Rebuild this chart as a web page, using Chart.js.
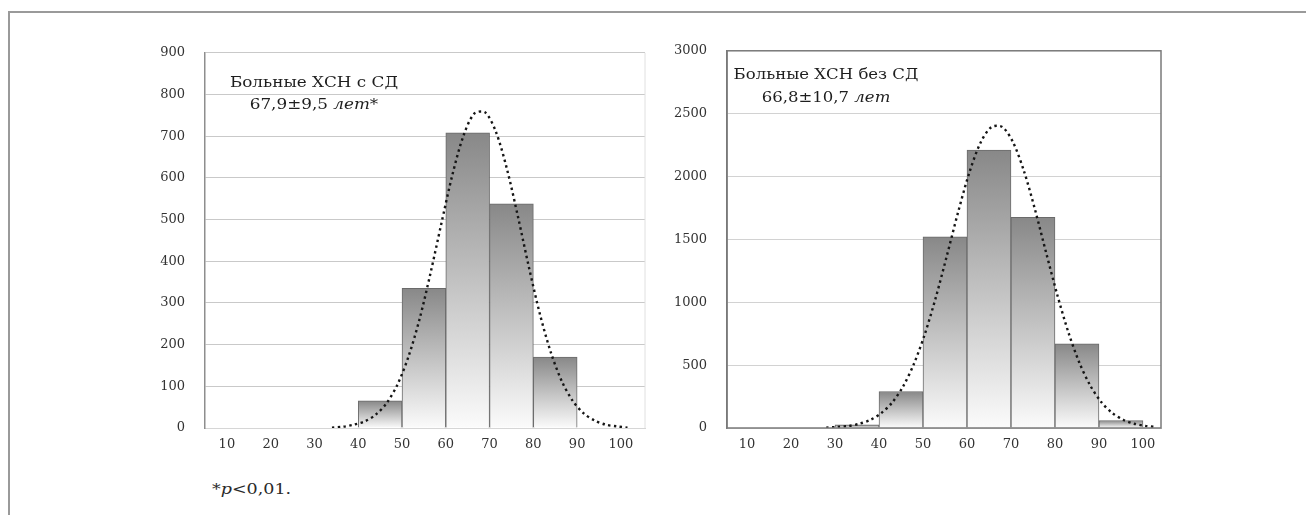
<!DOCTYPE html>
<html lang="ru">
<head>
<meta charset="utf-8">
<title>Возраст больных ХСН</title>
<script src="https://cdn.jsdelivr.net/npm/chart.js@4.4.1/dist/chart.umd.min.js"></script>
<style>
  html, body { margin: 0; padding: 0; background: #fff; }
  body { width: 1306px; height: 515px; position: relative; overflow: hidden; }
  .frame { position: absolute; left: 8px; top: 11px; width: 1400px; height: 600px;
           border-left: 2px solid #9a9a9a; border-top: 2px solid #9a9a9a; }
  .box { position: absolute; }
  #box-cd { left: 150px; top: 25px; width: 510px; height: 433px; }
  #box-nocd { left: 672px; top: 23px; width: 500px; height: 435px; }
  .note { position: absolute; left: 212px; top: 481px; font: 14px "DejaVu Serif", serif; color: #2a2a2a;
          transform: scaleX(1.25); transform-origin: left center; }
</style>
</head>
<body>
<div class="frame"></div>
<div class="box" id="box-cd"><canvas id="chart-cd"></canvas></div>
<div class="box" id="box-nocd"><canvas id="chart-nocd"></canvas></div>
<div class="note">*<i>p</i>&lt;0,01.</div>

<script>
// Середины возрастных интервалов (лет) и число больных
const binsCD = [45, 55, 65, 75, 85];
const countsCD = [65, 335, 708, 538, 170];
const binsNoCD = [35, 45, 55, 65, 75, 85, 95];
const countsNoCD = [25, 290, 1520, 2210, 1675, 670, 60];

// Кривая нормального распределения (точки)
const curveAgeCD = [34, 36.5, 39, 41.5, 44, 46.5, 49, 51.5, 54, 56.5, 59, 61.5, 64, 66.5,
  69, 71.5, 74, 76.5, 79, 81.5, 84, 86.5, 89, 91.5, 94, 96.5, 99, 101.5];
const curveCD = [1, 3, 8, 16, 32, 60, 105, 172, 261, 371, 491, 607, 700, 754,
  757, 709, 620, 506, 385, 273, 181, 112, 65, 35, 18, 8, 4, 1];
const curveAgeNoCD = [28, 30.5, 33, 35.5, 38, 40.5, 43, 45.5, 48, 50.5, 53, 55.5, 58, 60.5,
  63, 65.5, 68, 70.5, 73, 75.5, 78, 80.5, 83, 85.5, 88, 90.5, 93, 95.5, 98, 100.5, 103];
const curveNoCD = [3, 8, 16, 33, 64, 118, 203, 332, 515, 756, 1049, 1380, 1719, 2027,
  2263, 2392, 2395, 2270, 2038, 1732, 1393, 1062, 766, 523, 339, 207, 120, 66, 34, 17, 8];

// Подписи осей
const ageTicks = [10, 20, 30, 40, 50, 60, 70, 80, 90, 100];
const yTicksCD = [0, 100, 200, 300, 400, 500, 600, 700, 800, 900];
const yTicksNoCD = [0, 500, 1000, 1500, 2000, 2500, 3000];

const tickFont = { family: "DejaVu Serif", size: 13 };

/**
 * Градиент столбца: тёмный сверху, почти белый у основания
 */
const barFill = (ctx) => {
  const chart = ctx.chart;
  if (!chart.chartArea || ctx.type !== "data") return "#bbbbbb";
  const y = chart.scales.y;
  const top = y.getPixelForValue(ctx.raw.y);
  const bottom = y.getPixelForValue(0);
  const g = chart.ctx.createLinearGradient(0, top, 0, bottom);
  g.addColorStop(0, "#888888");
  g.addColorStop(1, "#fbfbfb");
  return g;
};

/**
 * Подпись внутри графика (строки из фрагментов, часть курсивом),
 * растянутая по горизонтали как на исходном рисунке
 */
const captionPlugin = (lines, stretch) => ({
  id: "caption",
  afterDraw(chart) {
    const c = chart.ctx;
    lines.forEach(({ x, y, runs }) => {
      c.save();
      c.translate(x, y);
      c.scale(stretch, 1);
      c.fillStyle = "#1e1e1e";
      c.textBaseline = "middle";
      c.textAlign = "left";
      const fonts = runs.map((r) => `${r.italic ? "italic " : ""}14px "DejaVu Serif", serif`);
      const widths = runs.map((r, i) => {
        c.font = fonts[i];
        return c.measureText(r.text).width;
      });
      let cx = -widths.reduce((a, b) => a + b, 0) / 2;
      runs.forEach((r, i) => {
        c.font = fonts[i];
        c.fillText(r.text, cx, 0);
        cx += widths[i];
      });
      c.restore();
    });
  },
});

/**
 * Рамка области построения (полная или только правый край)
 */
const framePlugin = (color, width, rightOnly = false) => ({
  id: "plotFrame",
  afterDraw(chart) {
    const { left, top, right, bottom } = chart.chartArea;
    const c = chart.ctx;
    c.save();
    c.strokeStyle = color;
    c.lineWidth = width;
    if (rightOnly) {
      c.beginPath();
      c.moveTo(right, top);
      c.lineTo(right, bottom);
      c.stroke();
    } else {
      c.strokeRect(left, top, right - left, bottom - top);
    }
    c.restore();
  },
});

const buildChart = ({ id, bins, counts, curveAge, curve, yTicks, xMin, xMax, padding, plugins, gridColor, axisColor }) => {
  const ctx = document.getElementById(id).getContext("2d");
  return new Chart(ctx, {
    type: "bar",
    data: {
      datasets: [
        {
          type: "line",
          data: curveAge.map((x, i) => ({ x, y: curve[i] })),
          borderColor: "#151515",
          borderWidth: 2.4,
          borderDash: [2.4, 3.4],
          pointRadius: 0,
          tension: 0.3,
          fill: false,
          order: 0,
        },
        {
          type: "bar",
          data: bins.map((x, i) => ({ x, y: counts[i] })),
          backgroundColor: barFill,
          borderColor: "#6a6a6a",
          borderWidth: 1,
          barPercentage: 1,
          categoryPercentage: 1,
          grouped: false,
          order: 1,
        },
      ],
    },
    options: {
      responsive: true,
      maintainAspectRatio: false,
      animation: false,
      layout: { padding },
      plugins: { legend: { display: false }, tooltip: { enabled: false } },
      scales: {
        x: {
          type: "linear",
          min: xMin,
          max: xMax,
          offset: false,
          afterBuildTicks: (s) => { s.ticks = ageTicks.map((v) => ({ value: v })); },
          afterFit: (s) => { s.height = 30; },
          grid: { display: false, drawTicks: false },
          border: { color: "#d6d6d6", width: 1 },
          ticks: { font: tickFont, color: "#333", padding: 9, maxRotation: 0, autoSkip: false },
        },
        y: {
          min: 0,
          max: yTicks[yTicks.length - 1],
          afterBuildTicks: (s) => { s.ticks = yTicks.map((v) => ({ value: v })); },
          afterFit: (s) => { s.width = 55; },
          grid: { color: gridColor, drawTicks: false },
          border: { color: axisColor, width: 1.5 },
          ticks: { font: tickFont, color: "#333", padding: 20, callback: (v) => String(v) },
        },
      },
    },
    plugins,
  });
};

// Больные ХСН с СД
buildChart({
  id: "chart-cd",
  bins: binsCD,
  counts: countsCD,
  curveAge: curveAgeCD,
  curve: curveCD,
  yTicks: yTicksCD,
  xMin: 5,
  xMax: 105.5,
  padding: { top: 13, right: 15, left: 0, bottom: 0 },
  gridColor: "#c9c9c9",
  axisColor: "#8e8e8e",
  plugins: [
    framePlugin("#e0e0e0", 1, true),
    captionPlugin([
      { x: 164, y: 58, runs: [{ text: "Больные ХСН с СД" }] },
      { x: 164, y: 80, runs: [{ text: "67,9±9,5 " }, { text: "лет*", italic: true }] },
    ], 1.2),
  ],
});

// Больные ХСН без СД
buildChart({
  id: "chart-nocd",
  bins: binsNoCD,
  counts: countsNoCD,
  curveAge: curveAgeNoCD,
  curve: curveNoCD,
  yTicks: yTicksNoCD,
  xMin: 5.45,
  xMax: 104.1,
  padding: { top: 11, right: 11, left: 0, bottom: 0 },
  gridColor: "#d2d2d2",
  axisColor: "#7a7a7a",
  plugins: [
    framePlugin("#7a7a7a", 1.5),
    captionPlugin([
      { x: 154, y: 52, runs: [{ text: "Больные ХСН без СД" }] },
      { x: 154, y: 75, runs: [{ text: "66,8±10,7 " }, { text: "лет", italic: true }] },
    ], 1.18),
  ],
});
</script>
</body>
</html>
